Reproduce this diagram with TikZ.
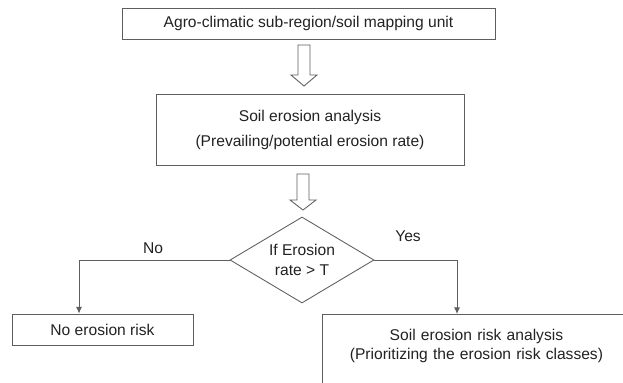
\documentclass[tikz,border=0pt]{standalone}
\usepackage{fontspec}
\setmainfont{Liberation Sans}
\usetikzlibrary{shapes.geometric,arrows.meta,calc}
\definecolor{linegray}{HTML}{5E5E5E}
\definecolor{txt}{HTML}{222222}
\begin{document}
\begin{tikzpicture}[x=0.75pt,y=-0.75pt,
  line/.style={draw=linegray, line width=0.65pt},
  boxnode/.style={line, rectangle, inner sep=0pt, text=txt, align=center,
    font=\fontsize{11.7pt}{14pt}\selectfont},
  decision/.style={line, diamond, inner sep=0pt, aspect=1.67, text=txt, align=center,
    font=\fontsize{11.7pt}{15pt}\selectfont},
  lbl/.style={text=txt, inner sep=0pt, font=\fontsize{11.7pt}{14pt}\selectfont},
  conn/.style={line, -{Latex[length=5pt,width=4.5pt]}},
  hollow/.style={line, fill=white, line join=miter}
]
\useasboundingbox (0,0) rectangle (623,382);
\clip (0,0) rectangle (623,382);

\node[boxnode, minimum width=279.75pt, minimum height=23.25pt] (unit) at (308.5,23.5)
  {Agro-climatic sub-region/soil mapping unit};

\node[boxnode, minimum width=231pt, minimum height=53.25pt,
  font=\fontsize{11.7pt}{18.75pt}\selectfont] (sea) at (310,129.5)
  {Soil erosion analysis\\(Prevailing/potential erosion rate)};

\node[decision, minimum width=108pt, minimum height=64.5pt] (dec) at (302,260)
  {If Erosion\\rate > T};

\node[boxnode, minimum width=135.75pt, minimum height=23.25pt] (norisk) at (102.5,329.5)
  {No erosion risk};

\node[boxnode, anchor=north west, inner xsep=0pt, inner ysep=11pt, text width=231pt,
  text depth=60pt, font=\fontsize{11.7pt}{14.25pt}\selectfont] (risk) at (322,314)
  {Soil erosion risk analysis\\(Prioritizing the erosion risk classes)};
\draw[line] (risk.north east) -- ++(200,0);

% hollow block arrows
\coordinate (h1) at (304,45);
\draw[hollow] (h1) ++(-6,0) -- ++(12,0) -- ++(0,30) -- ++(7,0) -- ++(-13,11)
  -- ++(-13,-11) -- ++(7,0) -- cycle;
\coordinate (h2) at (303,174);
\draw[hollow] (h2) ++(-6,0) -- ++(12,0) -- ++(0,26) -- ++(7,0) -- ++(-13,10)
  -- ++(-13,-10) -- ++(7,0) -- cycle;

% decision branches
\coordinate (nturn) at (79,260);
\coordinate (yturn) at (457,260);
\draw[conn] (dec.west) -- (nturn) -- (nturn |- norisk.north);
\draw[conn] (dec.east) -- (yturn) -- (yturn |- risk.north);

\node[lbl] (no) at (153,248) {No};
\node[lbl] (yes) at (408,236) {Yes};
\end{tikzpicture}
\end{document}
